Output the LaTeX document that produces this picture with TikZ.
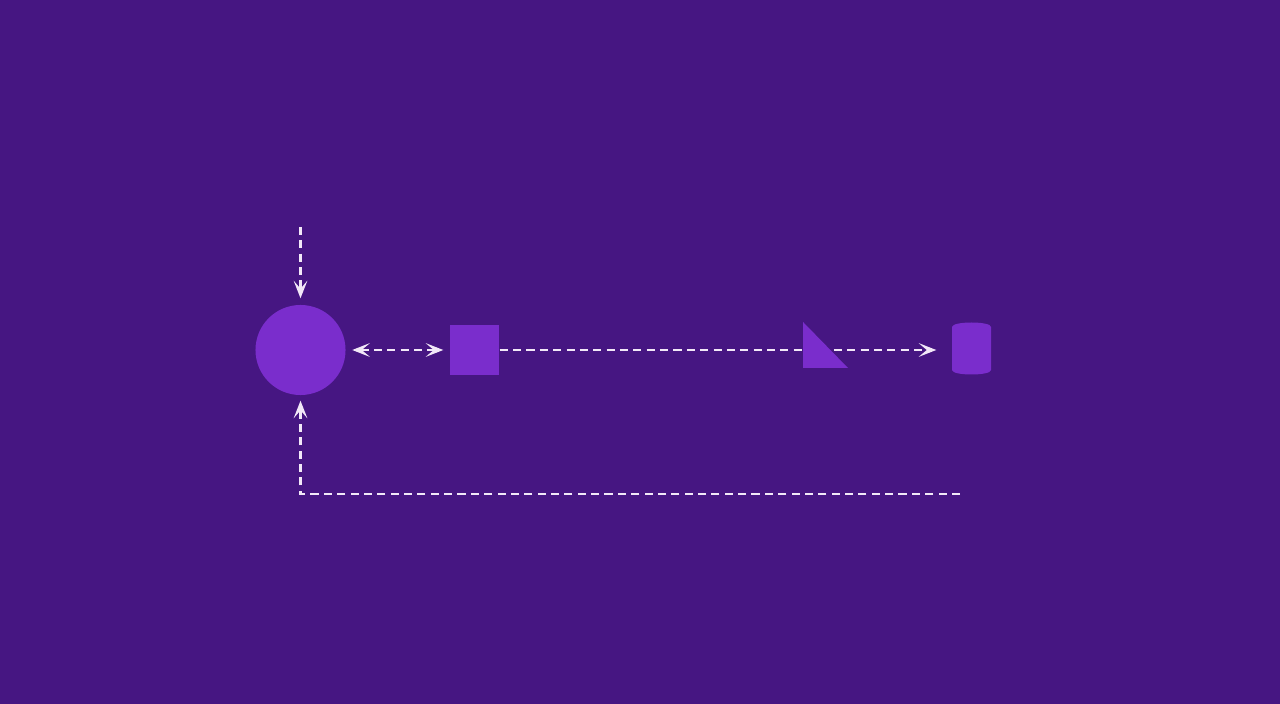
\documentclass[tikz,border=0pt]{standalone}
\usepackage{xcolor}
\usepackage{tikz}
\usetikzlibrary{arrows.meta,positioning,shapes}

\definecolor{bgpurple}{HTML}{461682}
\definecolor{shapepurple}{HTML}{7A2DCC}
\definecolor{linkwhite}{HTML}{F2E8F8}

\tikzset{
  block/.style={fill=shapepurple, draw=none, inner sep=0pt},
  tip/.tip={Stealth[length=5pt, width=3.9pt, inset=2.3pt]},
  link/.style={draw=linkwhite, line width=0.6pt, dash pattern=on 2.3pt off 1.5pt, -tip},
}

\begin{document}
\begin{tikzpicture}[x=0.01cm, y=-0.01cm]
\fill[bgpurple] (0, 0) rectangle (1280, 704);
\node[block, circle, minimum size=0.9cm] (hub) at (300.5, 350) {};
\node[block, rectangle, minimum size=0.49cm] (box) at (474.5, 350) {};
\node[inner sep=0pt, minimum width=0.39cm, minimum height=0.53cm] (store) at (971.5, 348.5) {};
% cylinder drawn round the store node
\fill[shapepurple] (952, 327) -- (952, 370) .. controls (952, 376) and (991, 376) .. (991, 370)
  -- (991, 327) .. controls (991, 321) and (952, 321) .. (952, 327) -- cycle;
\coordinate (feed) at (300.5, 227);
\coordinate (tail) at (960, 494);
\draw[link] (feed) -- ([yshift=0.06cm]hub.north);
\draw[link, tip-tip, shorten <=0.06cm, shorten >=0.06cm] (hub) -- (box);
\draw[link, shorten >=0.15cm] (box.east) -- (store.west |- box.east);
% triangle sits on top of the line
\fill[shapepurple] (803, 322) -- (803, 368) -- (848, 368) -- cycle;
\draw[link, shorten >=0.05cm] (tail) -| (hub.south);
\end{tikzpicture}
\end{document}
